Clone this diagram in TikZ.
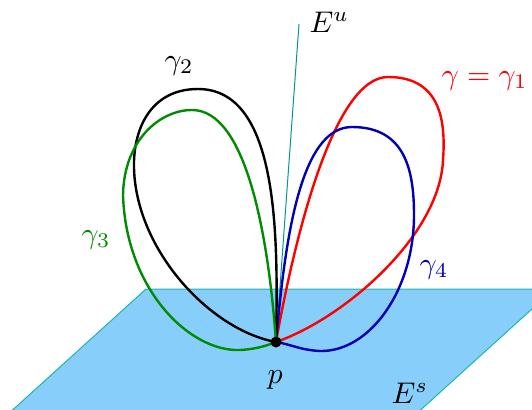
\documentclass[tikz,border=0pt]{standalone}
\begin{document}
\begin{tikzpicture}[x=1bp,y=-1bp]
\definecolor{planefill}{RGB}{135,206,250}
\definecolor{planeedge}{RGB}{30,180,180}
\definecolor{eucol}{RGB}{0,150,150}
\definecolor{cblue}{RGB}{0,0,180}
\definecolor{cgreen}{RGB}{0,140,0}
\tikzset{
  loop/.style={line width=2.4bp, line join=round},
  lbl/.style={scale=3, inner sep=0pt, anchor=base west},
}
\useasboundingbox (0,0) rectangle (532,409);
\clip (0,0) rectangle (532,409);
% plane E^s
\coordinate (s1) at (146,289);
\coordinate (s2) at (554,289);
\coordinate (s3) at (404,425);
\coordinate (s4) at (-4,425);
\filldraw[fill=planefill, draw=planeedge, line width=1bp] (s1) -- (s2) -- (s3) -- (s4) -- cycle;
% point p and E^u direction
\coordinate (p) at (276,342);
\coordinate (eu) at (299,24);
\draw[eucol, line width=1bp] (p) -- (eu);
% loops
\draw[loop, red] (p) .. controls (296,230) and (335,77) .. (388,77)
  .. controls (440,77) and (446,120) .. (443,160)
  .. controls (440,235) and (345,318) .. (p);
\draw[loop, cblue] (p) .. controls (285,240) and (300,127) .. (352,127)
  .. controls (405,127) and (414,170) .. (414,215)
  .. controls (414,290) and (370,352) .. (320,351)
  .. controls (300,350) and (290,344) .. (p);
\draw[loop, black] (p) .. controls (278,240) and (280,89) .. (198,89)
  .. controls (150,89) and (133,130) .. (134,168)
  .. controls (136,250) and (210,330) .. (p);
\draw[loop, cgreen] (p) .. controls (268,230) and (245,110) .. (192,110)
  .. controls (160,110) and (124,140) .. (123,195)
  .. controls (126,290) and (190,352) .. (240,350)
  .. controls (258,349) and (268,345) .. (p);
\fill (p) circle (5.5bp);
% labels
\node[lbl] (leu) at (309,32) {$E^u$};
\node[lbl] (les) at (391,403) {$E^s$};
\node[lbl] (lp) at (267,383) {$p$};
\node[lbl, black] (lg2) at (164,69) {$\gamma_2$};
\node[lbl, red] (lg1) at (441,84) {$\gamma=\gamma_1$};
\node[lbl, cgreen] (lg3) at (81,243) {$\gamma_3$};
\node[lbl, cblue] (lg4) at (419,273) {$\gamma_4$};
\end{tikzpicture}
\end{document}
